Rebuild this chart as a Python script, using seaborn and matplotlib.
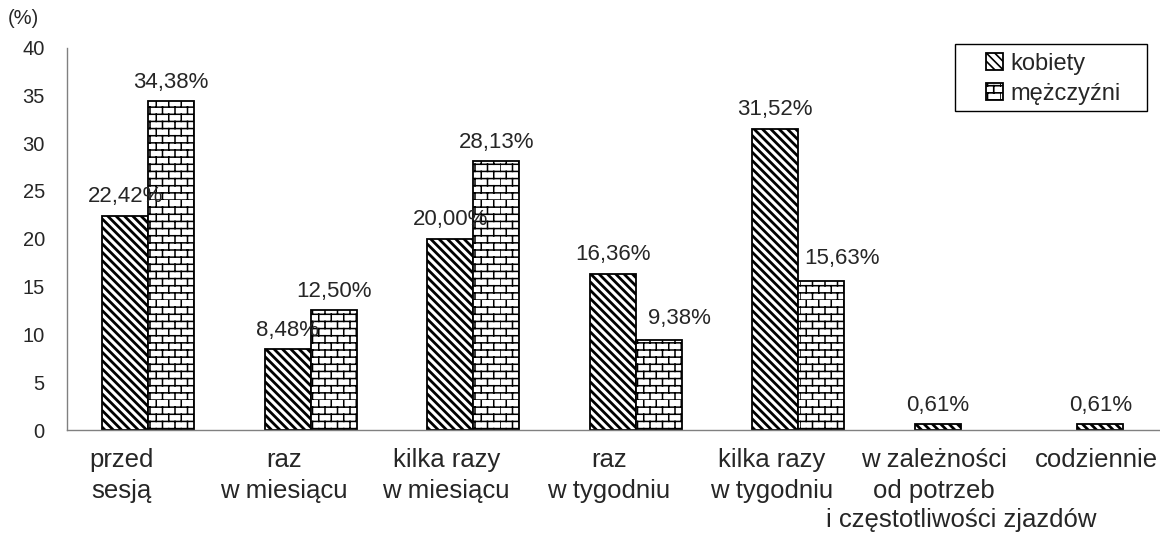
import matplotlib
matplotlib.use("Agg")
import matplotlib.pyplot as plt
import matplotlib.hatch as mhatch
from matplotlib.path import Path
from matplotlib.patches import Rectangle
from matplotlib.transforms import ScaledTranslation
import seaborn as sns
import numpy as np
import pandas as pd

categories = ["przed\nsesją", "raz\nw miesiącu", "kilka razy\nw miesiącu", "raz\nw tygodniu",
              "kilka razy\nw tygodniu", "w zależności\nod potrzeb\ni częstotliwości zjazdów",
              "codziennie"]
groups = ["kobiety", "mężczyźni"]
kobiety = [22.42, 8.48, 20.00, 16.36, 31.52, 0.61, 0.61]
mezczyzni = [34.38, 12.50, 28.13, 9.38, 15.63, 0.0, 0.0]
yticks = [0, 5, 10, 15, 20, 25, 30, 35, 40]


class Bricks(mhatch.HatchPatternBase):
    """Excel-like horizontal brick hatch, hooked onto the 'O' character."""
    rows, cols = 14, 8

    def __init__(self, hatch, density):
        on = hatch.count("O") > 0
        self.num_vertices = 2 * self.rows * (self.cols + 1) if on else 0

    def set_vertices_and_codes(self, vertices, codes):
        segs = []
        for i in range(self.rows):
            y0, y1 = i / self.rows, (i + 1) / self.rows
            segs.append(((0, y0), (1, y0)))
            off = 0.5 if i % 2 else 0.0
            for j in range(self.cols):
                x = (j + off) / self.cols
                segs.append(((x, y0), (x, y1)))
        vertices[:] = np.array(segs).reshape(-1, 2)
        codes[0::2] = Path.MOVETO
        codes[1::2] = Path.LINETO


mhatch._hatch_types = [Bricks if t is mhatch.LargeCircles else t for t in mhatch._hatch_types]

sns.set_style("white")
plt.rcParams["font.family"] = ["Liberation Sans", "DejaVu Sans"]
plt.rcParams["hatch.linewidth"] = 1.2
axis_grey = "#808080"
xfs = 18.5

df = pd.DataFrame({
    "kategoria": categories * 2,
    "płeć": [groups[0]] * len(categories) + [groups[1]] * len(categories),
    "procent": kobiety + mezczyzni,
})

fig = plt.figure(figsize=(11.6, 5.33), dpi=100)
ax = fig.add_axes([67 / 1160, 103 / 533, 1137.5 / 1160, 382.5 / 533])

sns.barplot(data=df, x="kategoria", y="procent", hue="płeć", palette=["white", "white"],
            edgecolor="black", linewidth=1.3, width=0.566, saturation=1,
            errorbar=None, legend=False, ax=ax)

hatches = ["\\\\\\\\", "O"]
hatch_lw = [2.0, 1.1]
for cont, h, hl in zip(ax.containers, hatches, hatch_lw):
    for bar in cont:
        bar.set_hatch(h)
        if hasattr(bar, "set_hatch_linewidth"):
            bar.set_hatch_linewidth(hl)
        if bar.get_height() <= 0:
            bar.set_visible(False)

# value labels over each bar; a men's label that would sit against a taller
# women's bar is nudged to the right, as in the original
for s, (cont, vals) in enumerate(zip(ax.containers, [kobiety, mezczyzni])):
    for i, (bar, v) in enumerate(zip(cont, vals)):
        if v <= 0:
            continue
        dx, dy = 0, 6
        if s == 1 and kobiety[i] > v:
            dx, dy = 15, 8
        ax.annotate(f"{v:.2f}".replace(".", ",") + "%",
                    (bar.get_x() + bar.get_width() / 2, bar.get_height()),
                    xytext=(dx, dy), textcoords="offset points",
                    ha="center", va="bottom", fontsize=16)

ax.set_xlim(-0.5, 6.5)
ax.set_ylim(0, 40)
ax.set_yticks(yticks)
ax.set_xlabel("")
ax.set_ylabel("")

# first two lines go in the tick label; a longer third line sits centred
# under its category, like the original wrapping
tick_text = ["\n".join(c.split("\n")[:2]) for c in categories]
ax.set_xticks(range(len(categories)))
ax.set_xticklabels(tick_text, fontsize=xfs, linespacing=1.35, va="top")
for i, c in enumerate(categories):
    rest = c.split("\n")[2:]
    if rest:
        ax.annotate("\n".join(rest), (i, 0), xycoords=ax.get_xaxis_transform(),
                    xytext=(0, -70), textcoords="offset points",
                    ha="center", va="baseline", fontsize=xfs)

ax.set_xticks(np.arange(-0.5, len(categories), 1), minor=True)
ax.tick_params(axis="x", which="major", length=0, pad=13)
ax.tick_params(axis="x", which="minor", length=6, width=1, color=axis_grey, direction="out")
ax.tick_params(axis="y", length=6, width=1, color=axis_grey, direction="out", labelsize=14.5, pad=10)
shift = ScaledTranslation(-27 / 100, 0, fig.dpi_scale_trans)
for lbl in ax.get_xticklabels():
    lbl.set_transform(lbl.get_transform() + shift)

for side in ["top", "right"]:
    ax.spines[side].set_visible(False)
for side in ["left", "bottom"]:
    ax.spines[side].set_color(axis_grey)
    ax.spines[side].set_linewidth(1)

fig.text(8 / 1160, 1 - 19 / 533, "(%)", fontsize=14.5, va="center", ha="left")

ax.legend(ax.containers, groups, loc="upper left", bbox_to_anchor=(986 / 1160, 1 - 53 / 533),
          bbox_transform=fig.transFigure, frameon=False, handlelength=0.72, handleheight=0.72,
          handletextpad=0.3, borderpad=0, borderaxespad=0, labelspacing=0.32, fontsize=17)
fig.add_artist(Rectangle((955 / 1160, 1 - 111 / 533), 192 / 1160, 67 / 533,
                         transform=fig.transFigure, fill=False, edgecolor="black", lw=1))

fig.savefig("out.png", dpi=100)
